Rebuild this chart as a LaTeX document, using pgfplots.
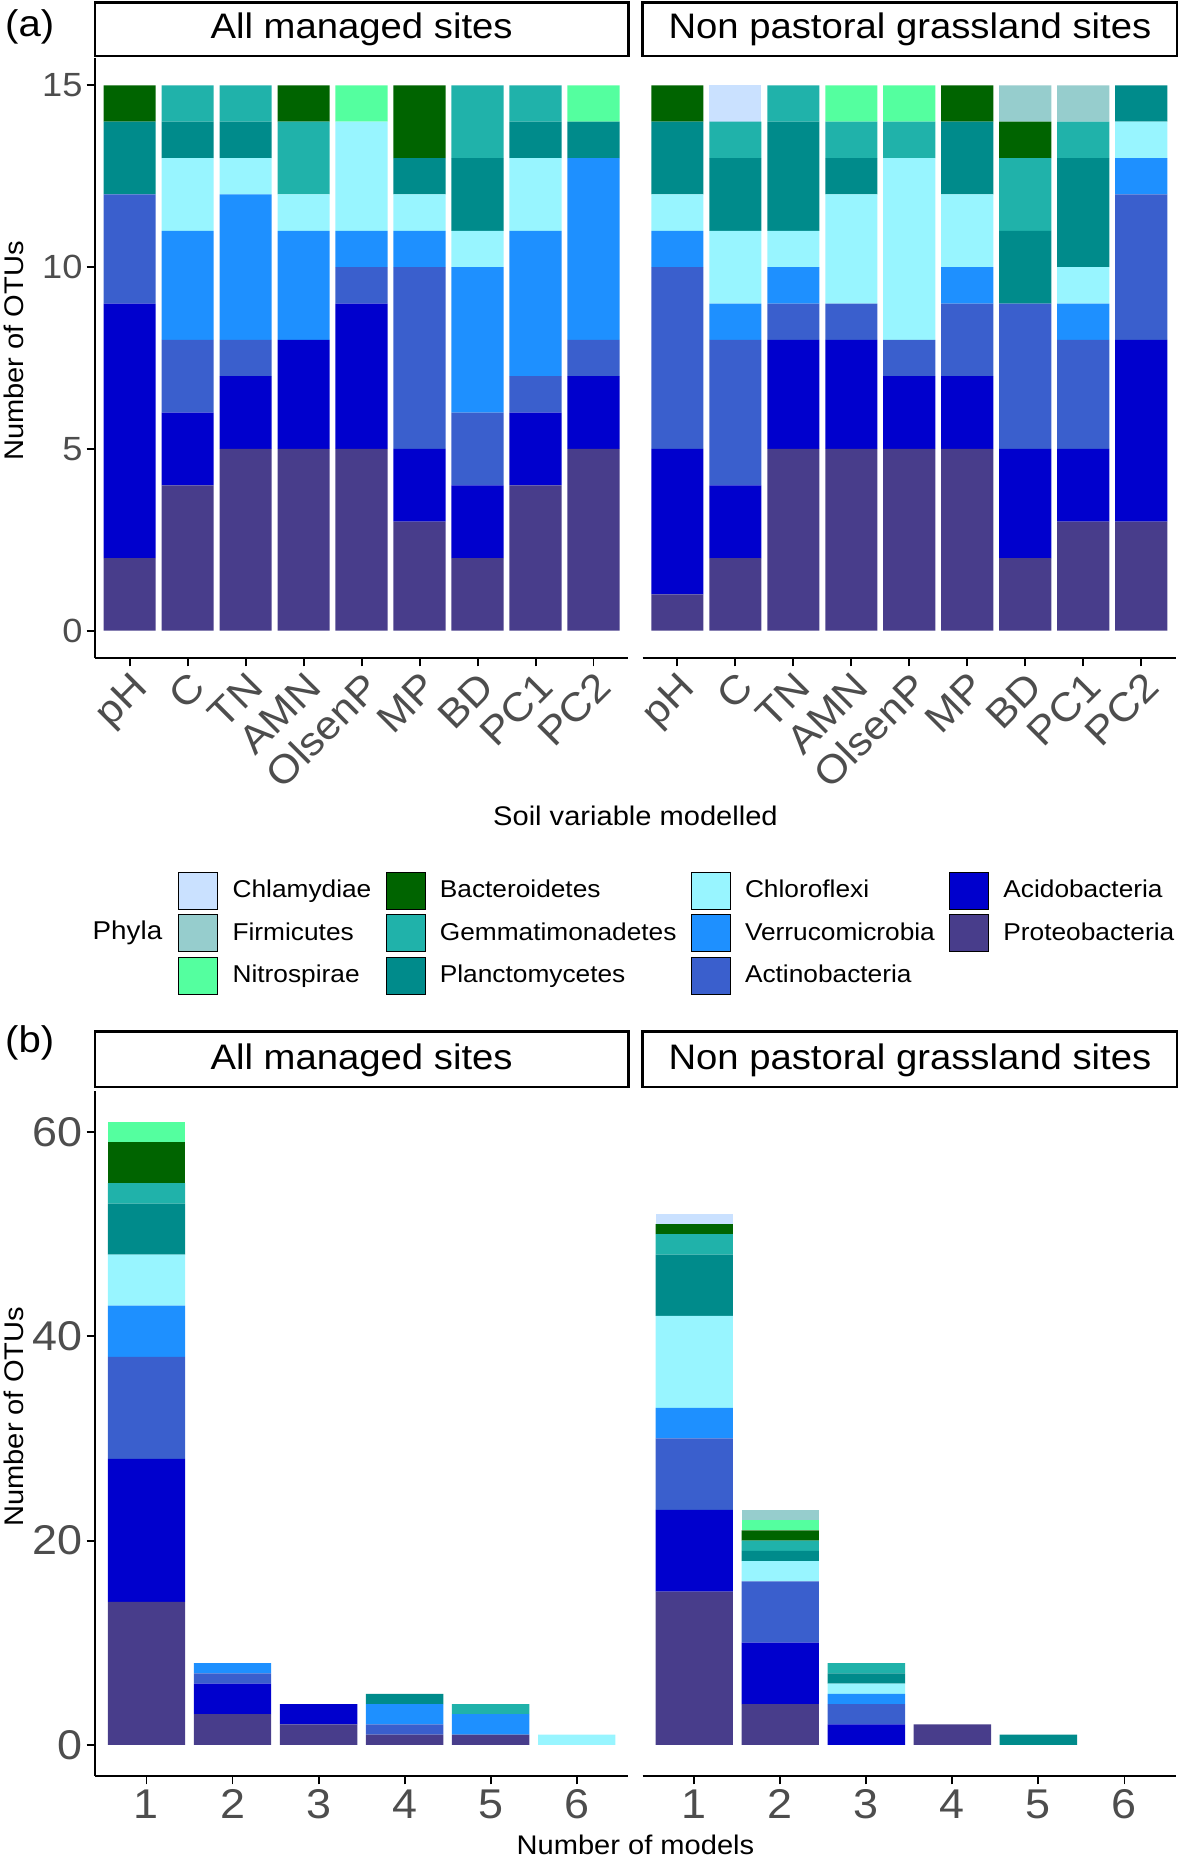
\documentclass[border=0pt]{standalone}
\usepackage{pgfplots}
\pgfplotsset{compat=1.18}
\usepackage{pgfplotstable}
\usepackage{fontspec}
\setmainfont{Liberation Sans}[FakeStretch=1.08]

\definecolor{cProteo}{HTML}{483D8B}
\definecolor{cAcido}{HTML}{0000CD}
\definecolor{cActino}{HTML}{3A5FCD}
\definecolor{cVerruco}{HTML}{1E90FF}
\definecolor{cChloro}{HTML}{98F5FF}
\definecolor{cPlancto}{HTML}{008B8B}
\definecolor{cGemma}{HTML}{20B2AA}
\definecolor{cBactero}{HTML}{006400}
\definecolor{cNitro}{HTML}{54FF9F}
\definecolor{cFirmi}{HTML}{96CDCD}
\definecolor{cChlam}{HTML}{CAE1FF}
\definecolor{tickgray}{HTML}{4D4D4D}

% (a) all managed sites: pH C TN AMN OlsenP MP BD PC1 PC2
\pgfplotstableread{
x Proteo Acido Actino Verruco Chloro Plancto Gemma Bactero Nitro Firmi Chlam
1 2 7 3 0 0 2 0 1 0 0 0
2 4 2 2 3 2 1 1 0 0 0 0
3 5 2 1 4 1 1 1 0 0 0 0
4 5 3 0 3 1 0 2 1 0 0 0
5 5 4 1 1 3 0 0 0 1 0 0
6 3 2 5 1 1 1 0 2 0 0 0
7 2 2 2 4 1 2 2 0 0 0 0
8 4 2 1 4 2 1 1 0 0 0 0
9 5 2 1 5 0 1 0 0 1 0 0
}\tabAL
% (a) non pastoral grassland sites
\pgfplotstableread{
x Proteo Acido Actino Verruco Chloro Plancto Gemma Bactero Nitro Firmi Chlam
1 1 4 5 1 1 2 0 1 0 0 0
2 2 2 4 1 2 2 1 0 0 0 1
3 5 3 1 1 1 3 1 0 0 0 0
4 5 3 1 0 3 1 1 0 1 0 0
5 5 2 1 0 5 0 1 0 1 0 0
6 5 2 2 1 2 2 0 1 0 0 0
7 2 3 4 0 0 2 2 1 0 1 0
8 3 2 3 1 1 3 1 0 0 1 0
9 3 5 4 1 1 1 0 0 0 0 0
}\tabAR
% (b) all managed sites, by number of models
\pgfplotstableread{
x Proteo Acido Actino Verruco Chloro Plancto Gemma Bactero Nitro Firmi Chlam
1 14 14 10 5 5 5 2 4 2 0 0
2 3 3 1 1 0 0 0 0 0 0 0
3 2 2 0 0 0 0 0 0 0 0 0
4 1 0 1 2 0 1 0 0 0 0 0
5 1 0 0 2 0 0 1 0 0 0 0
6 0 0 0 0 1 0 0 0 0 0 0
}\tabBL
% (b) non pastoral grassland sites
\pgfplotstableread{
x Proteo Acido Actino Verruco Chloro Plancto Gemma Bactero Nitro Firmi Chlam
1 15 8 7 3 9 6 2 1 0 0 1
2 4 6 6 0 2 1 1 1 1 1 0
3 0 2 2 1 1 1 1 0 0 0 0
4 2 0 0 0 0 0 0 0 0 0 0
5 0 0 0 0 0 1 0 0 0 0 0
6 0 0 0 0 0 0 0 0 0 0 0
}\tabBR

\newcommand{\stackbars}[1]{%
  \addplot[fill=cProteo] table[x=x,y=Proteo]{#1};
  \addplot[fill=cAcido] table[x=x,y=Acido]{#1};
  \addplot[fill=cActino] table[x=x,y=Actino]{#1};
  \addplot[fill=cVerruco] table[x=x,y=Verruco]{#1};
  \addplot[fill=cChloro] table[x=x,y=Chloro]{#1};
  \addplot[fill=cPlancto] table[x=x,y=Plancto]{#1};
  \addplot[fill=cGemma] table[x=x,y=Gemma]{#1};
  \addplot[fill=cBactero] table[x=x,y=Bactero]{#1};
  \addplot[fill=cNitro] table[x=x,y=Nitro]{#1};
  \addplot[fill=cFirmi] table[x=x,y=Firmi]{#1};
  \addplot[fill=cChlam] table[x=x,y=Chlam]{#1};
}

\pgfplotsset{
  panel/.style={
    scale only axis, ybar stacked, bar width=0.9,
    axis x line*=bottom,
    axis line style={-, line width=1bp, black},
    tick align=outside, major tick length=3.5bp,
    every tick/.append style={line width=0.8bp, black},
    /pgf/number format/assume math mode=true,
    tick label style={text=tickgray},
    every axis plot/.append style={draw=none},
  },
  panelA/.style={panel, width=225bp, height=253bp,
    xmin=0.4, xmax=9.6, ymin=-0.75, ymax=15.75,
    xtick={1,...,9}, xticklabels={pH,C,TN,AMN,OlsenP,MP,BD,PC1,PC2},
    xticklabel style={rotate=45, anchor=north east, inner sep=1bp,
      font=\fontsize{16.8}{16.8}\selectfont},
    yticklabel style={inner xsep=1.5bp, font=\fontsize{14.2}{14.2}\selectfont},
  },
  panelB/.style={panel, width=225bp, height=289bp,
    xmin=0.4, xmax=6.6, ymin=-3.05, ymax=64.05,
    xtick={1,...,6},
    xticklabel style={inner ysep=2bp, font=\fontsize{17.6}{17.6}\selectfont},
    yticklabel style={inner xsep=1.5bp, font=\fontsize{17.6}{17.6}\selectfont},
  },
  legbox/.style={legend image code/.code={\fill[##1] (0bp,-7.75bp) rectangle (16.5bp,7.75bp);}},
}

\begin{document}
\begin{tikzpicture}
\useasboundingbox (0,0) rectangle (498bp,-784bp);

% panel (a)
\begin{axis}[panelA, at={(40bp,-24.5bp)}, anchor=north west,
  axis y line*=left, ytick={0,5,10,15}]
\stackbars{\tabAL}
\end{axis}
\begin{axis}[panelA, at={(271bp,-24.5bp)}, anchor=north west,
  axis y line=none, ytick=\empty]
\stackbars{\tabAR}
\end{axis}

% panel (b)
\begin{axis}[panelB, at={(40bp,-460bp)}, anchor=north west,
  axis y line*=left, ytick={0,20,40,60}]
\stackbars{\tabBL}
\end{axis}
\begin{axis}[panelB, at={(271bp,-460bp)}, anchor=north west,
  axis y line=none, ytick=\empty]
\stackbars{\tabBR}
\end{axis}

% legend
\begin{axis}[hide axis, scale only axis, width=50bp, height=20bp,
  at={(75bp,-367.5bp)}, anchor=north west,
  xmin=0, xmax=1, ymin=0, ymax=1,
  legend columns=4, legend cell align=left,
  legend style={at={(0,1)}, anchor=north west, draw=none, fill=none,
    inner sep=0pt, row sep=2bp,
    nodes={inner xsep=6bp, inner ysep=0pt},
    font=\fontsize{10.3}{10.3}\selectfont}]
\addlegendimage{legbox, fill=cChlam}   \addlegendentry{Chlamydiae}
\addlegendimage{legbox, fill=cBactero} \addlegendentry{Bacteroidetes}
\addlegendimage{legbox, fill=cChloro}  \addlegendentry{Chloroflexi}
\addlegendimage{legbox, fill=cAcido}   \addlegendentry{Acidobacteria}
\addlegendimage{legbox, fill=cFirmi}   \addlegendentry{Firmicutes}
\addlegendimage{legbox, fill=cGemma}   \addlegendentry{Gemmatimonadetes}
\addlegendimage{legbox, fill=cVerruco} \addlegendentry{Verrucomicrobia}
\addlegendimage{legbox, fill=cProteo}  \addlegendentry{Proteobacteria}
\addlegendimage{legbox, fill=cNitro}   \addlegendentry{Nitrospirae}
\addlegendimage{legbox, fill=cPlancto} \addlegendentry{Planctomycetes}
\addlegendimage{legbox, fill=cActino}  \addlegendentry{Actinobacteria}
\end{axis}

% strips
\begin{scope}[line width=1bp]
\draw (40bp,-1bp) rectangle (265bp,-23.5bp);
\draw (271bp,-1bp) rectangle (496.5bp,-23.5bp);
\draw (40bp,-435bp) rectangle (265bp,-458.5bp);
\draw (271bp,-435bp) rectangle (496.5bp,-458.5bp);
\end{scope}
\begin{scope}[font=\fontsize{15}{15}\selectfont]
\node at (152.5bp,-12.5bp) {All managed sites};
\node at (383.75bp,-12.5bp) {Non pastoral grassland sites};
\node at (152.5bp,-447bp) {All managed sites};
\node at (383.75bp,-447bp) {Non pastoral grassland sites};
\end{scope}

% titles and labels
\node[font=\fontsize{15.7}{15.7}\selectfont] at (12.5bp,-11.5bp) {(a)};
\node[font=\fontsize{15.7}{15.7}\selectfont] at (12.5bp,-440bp) {(b)};
\begin{scope}[font=\fontsize{11.4}{11.4}\selectfont]
\node[rotate=90] at (6bp,-148bp) {Number of OTUs};
\node[rotate=90] at (6bp,-597.5bp) {Number of OTUs};
\node at (268bp,-344bp) {Soil variable modelled};
\node at (268bp,-778bp) {Number of models};
\node[font=\fontsize{10.9}{10.9}\selectfont] at (53.75bp,-393.5bp) {Phyla};
\end{scope}
\end{tikzpicture}
\end{document}
